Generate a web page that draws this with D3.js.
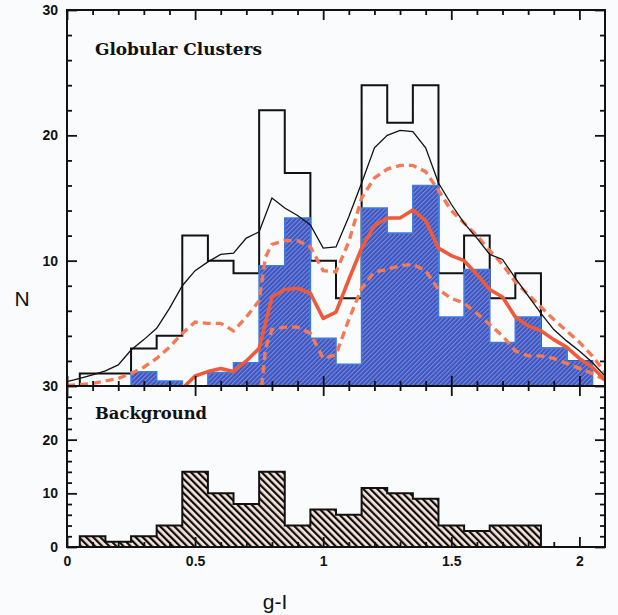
<!DOCTYPE html>
<html><head><meta charset="utf-8">
<script src="https://cdn.jsdelivr.net/npm/d3@7"></script>
<style>
html,body{margin:0;padding:0;background:#fafbfd;}
svg{display:block;}
</style></head>
<body>
<script>
// ---------- data ----------
const binCenters = [0.1,0.2,0.3,0.4,0.5,0.6,0.7,0.8,0.9,1.0,1.1,1.2,1.3,1.4,1.5,1.6,1.7,1.8,1.9,2.0];
const totalCounts = [1,1,3,4,12,10,9,22,17,10,7,24,21,24,9,12,7,9,3,2];
const gcCounts = [0,0,1.14,0.4,0,1.07,1.86,9.6,13.4,3.8,1.73,14.2,12.2,16.0,5.5,9.3,3.46,5.5,3.0,2.0];
const bgCounts = [2,1,2,4,14,10,8,14,4,7,6,11,10,9,4,3,4,4,0,0];

const totalKdeX = [0,0.05,0.1,0.15,0.2,0.25,0.3,0.35,0.4,0.45,0.5,0.55,0.6,0.65,0.7,0.75,0.8,0.85,0.9,0.95,1.0,1.05,1.1,1.15,1.2,1.25,1.3,1.35,1.4,1.45,1.5,1.55,1.6,1.65,1.7,1.75,1.8,1.85,1.9,1.95,2.0,2.05,2.1];
const totalKdeY = [0.35,0.6,0.88,1.2,1.68,2.87,3.7,4.6,6.2,8.0,9.2,9.9,10.5,10.6,11.8,12.3,15.0,14.2,13.6,12.85,11.0,11.1,13.5,16.2,19.0,20.0,20.4,20.3,19.0,16.2,14.5,13.0,11.8,10.5,10.1,8.6,7.2,5.8,4.5,3.6,2.8,1.9,0.8];

const gcKdeX = [0.46,0.5,0.55,0.6,0.65,0.7,0.75,0.8,0.85,0.9,0.95,1.0,1.05,1.1,1.15,1.2,1.25,1.3,1.35,1.4,1.45,1.5,1.55,1.6,1.65,1.7,1.75,1.8,1.85,1.9,1.95,2.0,2.05,2.1];
const gcKdeY = [0,0.8,1.15,1.4,1.15,2.0,3.0,7.1,7.7,7.8,7.4,5.4,5.9,8.5,11.0,12.8,13.4,13.4,14.05,13.2,11.0,10.4,10.0,8.9,7.7,7.1,5.5,4.8,4.4,3.7,3.1,2.2,1.5,0.5];

const gcHiX = [0,0.05,0.1,0.15,0.2,0.25,0.3,0.35,0.4,0.45,0.5,0.55,0.6,0.65,0.7,0.75,0.775,0.8,0.85,0.9,0.95,1.0,1.05,1.1,1.15,1.2,1.25,1.3,1.35,1.4,1.45,1.5,1.55,1.6,1.65,1.7,1.75,1.8,1.85,1.9,1.95,2.0,2.05,2.1];
const gcHiY = [0.05,0.1,0.2,0.4,0.6,1.0,1.5,2.2,3.1,4.2,5.1,5.0,5.0,4.4,5.5,6.8,10.3,11.3,11.6,11.6,11.1,9.2,9.1,11.5,15.0,16.6,17.3,17.6,17.6,17.1,15.6,14.0,13.0,12.0,10.8,9.7,8.3,7.3,6.3,5.3,4.4,3.5,2.4,1.1];

const gcLoX = [0.76,0.775,0.8,0.85,0.9,0.95,1.0,1.05,1.1,1.15,1.2,1.25,1.3,1.35,1.4,1.45,1.5,1.55,1.6,1.65,1.7,1.75,1.8,1.85,1.9,1.95,2.0,2.05,2.1];
const gcLoY = [0,3.0,4.5,4.7,4.7,4.2,2.2,2.5,5.3,7.8,9.1,9.3,9.6,9.7,9.2,7.7,7.0,6.6,5.8,4.9,4.0,2.8,2.4,2.4,2.2,1.8,1.4,1.0,0.5];

const xTickValues = [0,0.5,1,1.5,2];
const xTickLabels = ["0","0.5","1","1.5","2"];
const topYTickValues = [30,20,10];
const topYTickLabels = ["30","20","10"];
const botYTickValues = [30,20,10,0];
const botYTickLabels = ["30","20","10","0"];

// ---------- layout ----------
const W = 618, H = 615;
const L = 67, R = 605, T = 10, MID = 386, B = 547;
const binW = 0.1;

const svg = d3.select("body").append("svg").attr("width", W).attr("height", H)
  .style("font-family", "'Liberation Sans', Arial, sans-serif");
svg.append("rect").attr("width", W).attr("height", H).attr("fill", "#fafbfd");

const x = d3.scaleLinear().domain([0, 2.1]).range([L, R]);
const yTop = d3.scaleLinear().domain([0, 30]).range([MID, T]);
const yBot = d3.scaleLinear().domain([0, 30]).range([B, MID]);

// patterns
const defs = svg.append("defs");
const pb = defs.append("pattern").attr("id","blueHatch").attr("patternUnits","userSpaceOnUse")
  .attr("width",3.2).attr("height",3.2).attr("patternTransform","rotate(45)");
pb.append("rect").attr("width",3.2).attr("height",3.2).attr("fill","#3358c4");
pb.append("rect").attr("x",0).attr("width",1.1).attr("height",3.2).attr("fill","#8c84d2");

const pk = defs.append("pattern").attr("id","blackHatch").attr("patternUnits","userSpaceOnUse")
  .attr("width",5).attr("height",5).attr("patternTransform","rotate(-45)");
pk.append("rect").attr("width",5).attr("height",5).attr("fill","#f7e3da");
pk.append("rect").attr("x",0).attr("width",2.2).attr("height",5).attr("fill","#0d0d0d");

// step points helper
function stepPoints(centers, vals) {
  const pts = [];
  centers.forEach((c, i) => {
    pts.push([c - binW/2, vals[i]]);
    pts.push([c + binW/2, vals[i]]);
  });
  pts.unshift([centers[0] - binW/2, 0]);
  pts.push([centers[centers.length-1] + binW/2, 0]);
  return pts;
}

// ---------- top panel ----------
const gTop = svg.append("g");
const clipTop = defs.append("clipPath").attr("id","clipTop");
clipTop.append("rect").attr("x",L).attr("y",T).attr("width",R-L).attr("height",MID-T);
gTop.attr("clip-path","url(#clipTop)");

const lineTop = d3.line().x(d => x(d[0])).y(d => yTop(d[1]));

// black open histogram
gTop.append("path").datum(stepPoints(binCenters, totalCounts))
  .attr("d", lineTop).attr("fill","none").attr("stroke","#111").attr("stroke-width",2);

// blue filled histogram (single path, no seams)
gTop.append("path").datum(stepPoints(binCenters, gcCounts))
  .attr("d", lineTop).attr("fill","url(#blueHatch)").attr("stroke","#3d7be0").attr("stroke-width",1.6);

// curves
const curveLine = (xs, ys) => d3.line().x((d,i)=>x(xs[i])).y((d,i)=>yTop(ys[i]))(ys);
gTop.append("path").attr("d", curveLine(gcHiX, gcHiY)).attr("fill","none")
  .attr("stroke","#f47a56").attr("stroke-width",3.4).attr("stroke-dasharray","8,5");
gTop.append("path").attr("d", curveLine(gcLoX, gcLoY)).attr("fill","none")
  .attr("stroke","#f47a56").attr("stroke-width",3.4).attr("stroke-dasharray","8,5");
gTop.append("path").attr("d", curveLine(gcKdeX, gcKdeY)).attr("fill","none")
  .attr("stroke","#f05a3a").attr("stroke-width",3.6).attr("stroke-linejoin","round");
gTop.append("path").attr("d", curveLine(totalKdeX, totalKdeY)).attr("fill","none")
  .attr("stroke","#111").attr("stroke-width",1.3);

// ---------- bottom panel ----------
const lineBot = d3.line().x(d => x(d[0])).y(d => yBot(d[1]));
const gBot = svg.append("g");
gBot.append("path").datum(stepPoints(binCenters.slice(0,18), bgCounts.slice(0,18)))
  .attr("d", lineBot).attr("fill","url(#blackHatch)").attr("stroke","#111").attr("stroke-width",2)
  .attr("stroke-linejoin","miter");

// ---------- axes ----------
const minorX = d3.range(0, 21).map(i => i/10).filter(v => !xTickValues.includes(+v.toFixed(1)));
const minorY = d3.range(0, 31, 2).filter(v => v % 10 !== 0);
const axG = svg.append("g").attr("stroke-width",1.8);

function styleAxis(g) {
  g.select(".domain").remove();
  g.selectAll("line").attr("stroke","#111").attr("stroke-width",1.8);
  g.selectAll("text").attr("fill","#111").style("font-weight","bold").style("font-size","14px")
    .style("font-family","'Liberation Sans', Arial, sans-serif");
}
function addX(y0, dir, labels) {
  const mk = (vals, size, withLabels) => {
    const ax = (dir > 0 ? d3.axisTop(x) : d3.axisBottom(x)).tickValues(vals).tickSize(-size).tickSizeOuter(0);
    if (withLabels) ax.tickFormat((d,i) => xTickLabels[i]).tickPadding(9); else ax.tickFormat("");
    axG.append("g").attr("transform", `translate(0,${y0})`).call(ax).call(styleAxis);
  };
  mk(minorX, 5, false);
  mk(xTickValues, 10, labels);
}
function addY(yScale, x0, left, vals, labs) {
  const mkA = (v, size, withLabels) => {
    const ax = (left ? d3.axisLeft(yScale) : d3.axisRight(yScale)).tickValues(v).tickSize(-size).tickSizeOuter(0);
    if (withLabels) ax.tickFormat((d,i) => labs[i]).tickPadding(9); else ax.tickFormat("");
    axG.append("g").attr("transform", `translate(${x0},0)`).call(ax).call(styleAxis);
  };
  mkA(minorY, 5, false);
  mkA(vals, 10, left);
}
addX(T, 1, false);
addX(MID, -1, false);
addY(yTop, L, true, topYTickValues, topYTickLabels);
addY(yTop, R, false, topYTickValues, topYTickLabels);
addX(MID, 1, false);
addX(B, -1, true);
addY(yBot, L, true, botYTickValues, botYTickLabels);
addY(yBot, R, false, botYTickValues, botYTickLabels);

// frames
svg.append("rect").attr("x",L).attr("y",T).attr("width",R-L).attr("height",B-T)
  .attr("fill","none").attr("stroke","#111").attr("stroke-width",2);
svg.append("line").attr("x1",L).attr("x2",R).attr("y1",MID).attr("y2",MID)
  .attr("stroke","#111").attr("stroke-width",2);

// ---------- texts ----------
svg.append("text").attr("x",95).attr("y",55).text("Globular Clusters")
  .attr("textLength",167).attr("lengthAdjust","spacingAndGlyphs")
  .style("font-family","'DejaVu Serif', serif").style("font-weight","bold").style("font-size","17px").attr("fill","#111");
svg.append("text").attr("x",95).attr("y",419).text("Background")
  .attr("textLength",112).attr("lengthAdjust","spacingAndGlyphs")
  .style("font-family","'DejaVu Serif', serif").style("font-weight","bold").style("font-size","17px").attr("fill","#111");
svg.append("text").attr("x",22).attr("y",306).attr("text-anchor","middle").text("N")
  .style("font-size","21px").attr("fill","#111");
svg.append("text").attr("x",275).attr("y",609).attr("text-anchor","middle").text("g-I")
  .style("font-size","21px").attr("fill","#111");
</script>
</body></html>
